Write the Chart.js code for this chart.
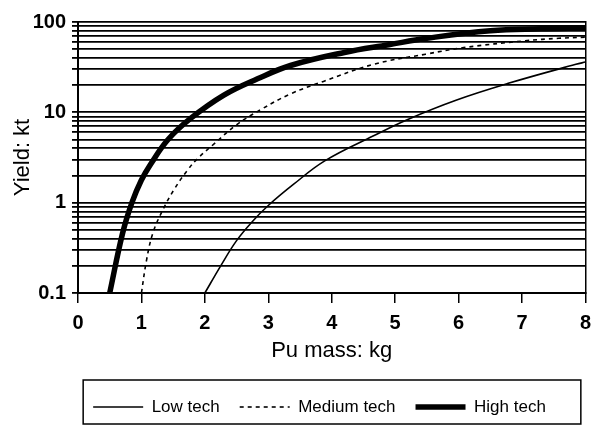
<!DOCTYPE html>
<html>
<head>
<meta charset="utf-8">
<script src="https://cdn.jsdelivr.net/npm/chart.js@4/dist/chart.umd.min.js"></script>
<style>
  html, body { margin: 0; padding: 0; background: #fff; }
  #wrap { width: 591px; height: 427px; }
</style>
</head>
<body>
<div id="wrap"><canvas id="c"></canvas></div>
<script>
// ---- data ----
const seriesNames = ["Low tech", "Medium tech", "High tech"];

const lowX  = [2.0, 2.25, 2.5, 2.75, 3.0, 3.4, 3.89, 4.66, 5.19, 5.97, 6.77, 7.85, 8.0];
const lowY  = [0.1, 0.2, 0.38, 0.62, 0.93, 1.6, 2.9, 5.5, 8.3, 13.7, 20.8, 34, 36];

const medX  = [1.0, 1.08, 1.18, 1.34, 1.51, 1.72, 1.89, 2.15, 2.49, 2.89, 3.35, 3.87, 4.66, 5.48, 6.08, 7.05, 7.58, 8.0];
const medY  = [0.1, 0.23, 0.46, 0.84, 1.38, 2.26, 3.1, 4.5, 7.2, 10.8, 16, 22, 34, 44, 52, 62, 66, 68];

const highX = [0.5, 0.7, 0.85, 1.0, 1.15, 1.42, 1.77, 2.3, 2.83, 3.35, 4.2, 4.9, 5.5, 6.5, 7.3, 8.0];
const highY = [0.1, 0.45, 1.0, 1.78, 2.7, 5.0, 8.5, 15.5, 23.5, 33, 46, 56, 66, 80, 84, 86];

const yTickValues = [0.1,0.2,0.3,0.4,0.5,0.6,0.7,0.8,0.9,1,2,3,4,5,6,7,8,9,10,20,30,40,50,60,70,80,90,100];
const yTickLabels = {"0.1": "0.1", "1": "1", "10": "10", "100": "100"};
const xTickValues = [0,1,2,3,4,5,6,7,8];

const pts = (xs, ys) => xs.map((x, i) => ({x: x, y: ys[i]}));

const FONT = "'Liberation Sans', Arial, Helvetica, sans-serif";
const LEG_PAD = 20;
const LEG_FONT = 17;

const legendBoxPlugin = {
  id: 'legendBox',
  afterLayout(chart) {
    const lg = chart.legend;
    if (!lg) return;
    lg.left += 24; lg.right += 24;
  },
  afterDraw(chart) {
    const lg = chart.legend;
    if (!lg || !lg.lineWidths) return;
    const lw = lg.lineWidths[0];
    const x0 = (lg.left + LEG_PAD + lg.right - lw) / 2;
    const x1 = x0 + lw - LEG_PAD;
    const y0 = lg.top + LEG_PAD;
    const y1 = y0 + LEG_FONT;
    const l = x0 - 10, r = x1 + 35, t = y0 - 18.5, b = y1 + 8.5;
    const ctx = chart.ctx;
    ctx.save();
    ctx.strokeStyle = '#000';
    ctx.lineWidth = 1.5;
    ctx.setLineDash([]);
    ctx.strokeRect(l, t, r - l, b - t);
    ctx.restore();
  }
};

new Chart(document.getElementById('c'), {
  type: 'line',
  data: {
    datasets: [
      { label: seriesNames[0], data: pts(lowX, lowY), borderColor: '#000', backgroundColor: '#000',
        borderWidth: 1.6, pointRadius: 0, tension: 0.4, fill: false },
      { label: seriesNames[1], data: pts(medX, medY), borderColor: '#000', backgroundColor: '#000',
        borderWidth: 1.6, borderDash: [4, 4], pointRadius: 0, tension: 0.4, fill: false },
      { label: seriesNames[2], data: pts(highX, highY), borderColor: '#000', backgroundColor: '#000',
        borderWidth: 5.5, pointRadius: 0, tension: 0.4, fill: false }
    ]
  },
  options: {
    responsive: true,
    maintainAspectRatio: false,
    animation: false,
    layout: { padding: { top: 22, bottom: 1.5, left: 0, right: 0 } },
    plugins: {
      tooltip: { enabled: false },
      legend: {
        position: 'bottom',
        labels: {
          usePointStyle: true,
          pointStyle: 'line',
          pointStyleWidth: 50,
          padding: LEG_PAD,
          color: '#000',
          font: { family: FONT, size: LEG_FONT },
          generateLabels(chart) {
            const items = Chart.defaults.plugins.legend.labels.generateLabels(chart);
            items.forEach(it => {
              const ds = chart.data.datasets[it.datasetIndex];
              it.lineDash = ds.borderDash || [];
              it.lineWidth = ds.borderWidth;
              it.strokeStyle = '#000';
              it.fillStyle = '#000';
              it.pointStyle = 'line';
            });
            return items;
          }
        }
      }
    },
    scales: {
      x: {
        type: 'linear',
        min: 0, max: 8,
        afterBuildTicks: s => { s.ticks = xTickValues.map(v => ({value: v})); },
        afterFit: s => { s.height = 85.5; },
        grid: { drawOnChartArea: false, drawTicks: true, tickLength: 10, color: '#000', lineWidth: 1.5 },
        border: { display: true, color: '#000', width: 2 },
        ticks: { color: '#000', padding: 0, font: { family: FONT, size: 20, weight: 'bold', lineHeight: 2.0 } },
        title: { display: true, text: 'Pu mass: kg', color: '#000',
                 font: { family: FONT, size: 22 }, padding: { top: 2, bottom: 14 } }
      },
      y: {
        type: 'logarithmic',
        min: 0.1, max: 100,
        afterBuildTicks: s => { s.ticks = yTickValues.map(v => ({value: v})); },
        afterFit: s => { s.width = 78; },
        grid: { color: '#000', lineWidth: 1.8, tickLength: 6 },
        border: { display: true, color: '#000', width: 2 },
        ticks: {
          autoSkip: false, color: '#000', padding: 6,
          font: { family: FONT, size: 20, weight: 'bold' },
          callback: v => yTickLabels[String(v)] || ''
        },
        title: { display: true, text: 'Yield: kt', color: '#000',
                 font: { family: FONT, size: 22 }, padding: { top: 10, bottom: 0 } }
      },
      y2: {
        type: 'linear', position: 'right', min: 0, max: 1,
        afterFit: s => { s.width = 0; },
        ticks: { display: false },
        grid: { display: false, drawTicks: false },
        border: { display: true, color: '#000', width: 1.5 }
      }
    }
  },
  plugins: [legendBoxPlugin]
});
</script>
</body>
</html>
